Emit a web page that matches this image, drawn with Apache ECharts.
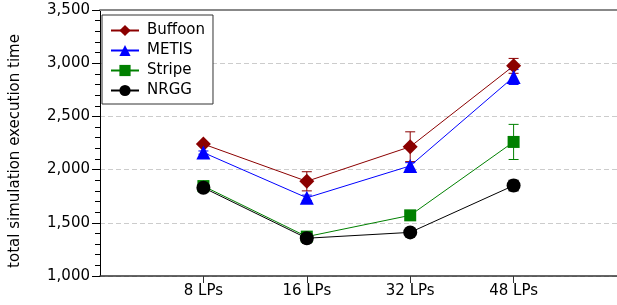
<!DOCTYPE html>
<html>
<head>
<meta charset="utf-8">
<script src="https://cdn.jsdelivr.net/npm/echarts@6/dist/echarts.min.js"></script>
<style>
  html, body { margin: 0; padding: 0; background: #fff; }
  #chart { width: 617px; height: 305px; }
</style>
</head>
<body>
<div id="chart"></div>
<script>
var categories = ['8 LPs', '16 LPs', '32 LPs', '48 LPs'];
var yTicks = [1000, 1500, 2000, 2500, 3000, 3500];

var buffoon = [2240, 1890, 2215, 2975];
var buffoonErr = [15, 90, 140, 70];
var metis = [2160, 1735, 2035, 2870];
var metisErr = [15, 25, 30, 70];
var stripe = [1845, 1370, 1570, 2260];
var stripeErr = [15, 15, 15, 165];
var nrgg = [1830, 1355, 1410, 1850];
var nrggErr = [10, 10, 10, 50];

var font = 'DejaVu Sans';

function points(values) {
    return values.map(function (v, i) { return [i + 1, v]; });
}

function errorSeries(name, color, values, errs) {
    return {
        name: name + ' error',
        type: 'custom',
        z: 1,
        data: values.map(function (v, i) { return [i + 1, v - errs[i], v + errs[i]]; }),
        renderItem: function (params, api) {
            var lo = api.coord([api.value(0), api.value(1)]);
            var hi = api.coord([api.value(0), api.value(2)]);
            var w = 5;
            var style = { stroke: color, lineWidth: 1 };
            return {
                type: 'group',
                children: [
                    { type: 'line', shape: { x1: lo[0], y1: lo[1], x2: hi[0], y2: hi[1] }, style: style },
                    { type: 'line', shape: { x1: lo[0] - w, y1: lo[1], x2: lo[0] + w, y2: lo[1] }, style: style },
                    { type: 'line', shape: { x1: hi[0] - w, y1: hi[1], x2: hi[0] + w, y2: hi[1] }, style: style }
                ]
            };
        },
        encode: { x: 0, y: [1, 2] },
        silent: true
    };
}

function lineSeries(name, color, values, symbol, size) {
    return {
        name: name,
        type: 'line',
        z: 3,
        data: points(values),
        symbol: symbol,
        symbolSize: size,
        showAllSymbol: true,
        lineStyle: { color: color, width: 1 },
        itemStyle: { color: color },
        emphasis: { disabled: true }
    };
}

var myChart = echarts.init(document.getElementById('chart'));

var option = {
    animation: false,
    textStyle: { fontFamily: font },
    grid: { left: 99, right: 0, top: 10, bottom: 29 },
    legend: {
        orient: 'vertical',
        left: 102,
        top: 15,
        data: ['Buffoon', 'METIS', 'Stripe', 'NRGG'],
        backgroundColor: '#fff',
        borderColor: '#333',
        borderWidth: 1,
        padding: [8, 8, 6, 8],
        itemGap: 5,
        itemWidth: 28,
        itemHeight: 14,
        textStyle: { fontFamily: font, fontSize: 15, color: '#000', padding: [0, 0, 0, 3] }
    },
    xAxis: [
        {
            type: 'value',
            min: 0,
            max: 5,
            interval: 1,
            axisLine: { lineStyle: { color: '#333', width: 1.5 } },
            axisTick: { length: 7, lineStyle: { color: '#333' }, customValues: [1, 2, 3, 4] },
            axisLabel: {
                fontFamily: font,
                fontSize: 15,
                color: '#000',
                margin: 8,
                customValues: [1, 2, 3, 4],
                formatter: function (v) { return categories[v - 1] || ''; }
            },
            splitLine: { show: false }
        },
        {
            type: 'value',
            position: 'top',
            min: 0,
            max: 5,
            axisLine: { show: true, lineStyle: { color: '#888', width: 2 } },
            axisTick: { show: false },
            axisLabel: { show: false },
            splitLine: { show: false }
        }
    ],
    yAxis: {
        type: 'value',
        min: yTicks[0],
        max: yTicks[yTicks.length - 1],
        interval: 500,
        name: 'total simulation execution time',
        nameLocation: 'middle',
        nameGap: 77,
        nameTextStyle: { fontFamily: font, fontSize: 15, color: '#000', padding: [0, 16, 0, 0] },
        axisLine: { show: true, lineStyle: { color: '#000' } },
        axisTick: { show: true, length: 8, lineStyle: { color: '#000' } },
        minorTick: { show: true, splitNumber: 5, length: 5, lineStyle: { color: '#000' } },
        axisLabel: {
            fontFamily: font,
            fontSize: 15,
            color: '#000',
            margin: 10,
            formatter: function (v) { return v.toLocaleString('en-US'); }
        },
        splitLine: {
            show: true,
            lineStyle: { color: '#ccc', type: [5, 3], width: 1 }
        }
    },
    series: [
        errorSeries('Buffoon', '#8b0000', buffoon, buffoonErr),
        errorSeries('METIS', '#0000ff', metis, metisErr),
        errorSeries('Stripe', '#008000', stripe, stripeErr),
        errorSeries('NRGG', '#000000', nrgg, nrggErr),
        lineSeries('Buffoon', '#8b0000', buffoon, 'diamond', 15),
        lineSeries('METIS', '#0000ff', metis, 'triangle', 14),
        lineSeries('Stripe', '#008000', stripe, 'rect', 12),
        lineSeries('NRGG', '#000000', nrgg, 'circle', 14)
    ]
};

myChart.setOption(option);
</script>
</body>
</html>
